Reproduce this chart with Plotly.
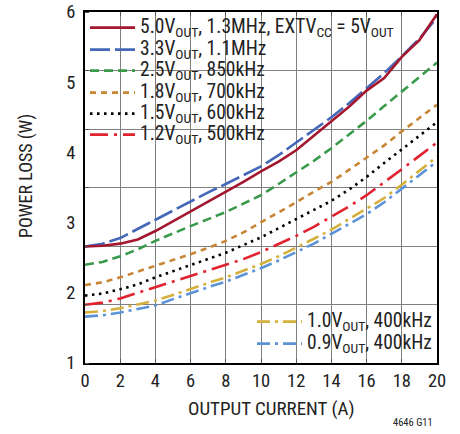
import plotly.graph_objects as go

current = list(range(0, 21))

v50 = [2.66, 2.67, 2.70, 2.76, 2.88, 3.02, 3.16, 3.29, 3.44, 3.58, 3.73, 3.87, 4.03, 4.24, 4.44, 4.65, 4.88, 5.06, 5.36, 5.60, 5.97]
v33 = [2.66, 2.70, 2.78, 2.91, 3.05, 3.18, 3.31, 3.43, 3.55, 3.67, 3.80, 3.96, 4.14, 4.31, 4.50, 4.70, 4.91, 5.13, 5.37, 5.62, 5.92]
v25 = [2.40, 2.44, 2.52, 2.62, 2.74, 2.85, 2.95, 3.05, 3.15, 3.27, 3.39, 3.55, 3.71, 3.88, 4.06, 4.25, 4.45, 4.66, 4.87, 5.08, 5.28]
v18 = [2.11, 2.15, 2.22, 2.30, 2.38, 2.47, 2.55, 2.64, 2.74, 2.86, 3.00, 3.14, 3.29, 3.44, 3.58, 3.75, 3.92, 4.10, 4.30, 4.49, 4.68]
v15 = [1.96, 1.99, 2.05, 2.12, 2.22, 2.31, 2.39, 2.48, 2.57, 2.68, 2.79, 2.92, 3.05, 3.18, 3.31, 3.47, 3.65, 3.85, 4.04, 4.23, 4.43]
v12 = [1.83, 1.86, 1.92, 2.00, 2.08, 2.16, 2.24, 2.32, 2.40, 2.48, 2.58, 2.69, 2.81, 2.94, 3.08, 3.23, 3.39, 3.57, 3.76, 3.95, 4.14]
v10 = [1.72, 1.74, 1.78, 1.83, 1.89, 1.97, 2.06, 2.14, 2.22, 2.31, 2.41, 2.52, 2.64, 2.77, 2.90, 3.05, 3.19, 3.35, 3.54, 3.74, 3.94]
v09 = [1.66, 1.68, 1.72, 1.77, 1.82, 1.91, 2.00, 2.08, 2.16, 2.25, 2.35, 2.46, 2.58, 2.70, 2.84, 2.98, 3.12, 3.29, 3.48, 3.67, 3.87]

names = [
    "5.0V<sub>OUT</sub>, 1.3MHz, EXTV<sub>CC</sub> = 5V<sub>OUT</sub>",
    "3.3V<sub>OUT</sub>, 1.1MHz",
    "2.5V<sub>OUT</sub>, 850kHz",
    "1.8V<sub>OUT</sub>, 700kHz",
    "1.5V<sub>OUT</sub>, 600kHz",
    "1.2V<sub>OUT</sub>, 500kHz",
    "1.0V<sub>OUT</sub>, 400kHz",
    "0.9V<sub>OUT</sub>, 400kHz",
]
series = [v50, v33, v25, v18, v15, v12, v10, v09]
colors = ["#a3172f", "#4467b8", "#3a9a4c", "#c78535", "#000000", "#e2232f", "#d4b03c", "#5b93d6"]
dashes = ["solid", "20px,5px", "9px,5px", "6px,5px", "2.5px,4.5px",
          "18px,6px,3px,6px", "13px,5px,3px,5px", "13px,5px,3px,5px"]

# legend row centres (px from top of figure) and side
row_px = [28, 50, 71, 93, 114, 135, 322, 344]
row_side = ["left"] * 6 + ["right"] * 2

FONT = "Roboto Condensed, Liberation Sans Narrow, Arial Narrow, Liberation Sans, sans-serif"
TXT = 19.5
W, H = 460, 434
PLOT_TOP, PLOT_BOT, PLOT_L, PLOT_R = 12, 363, 85, 437
PH = PLOT_BOT - PLOT_TOP
PW = PLOT_R - PLOT_L


def px_x(p):
    return (p - PLOT_L) / PW


def px_y(p):
    return (PLOT_BOT - p) / PH


fig = go.Figure()
for i in reversed(range(len(series))):
    lg = "legend" if i == 0 else f"legend{i + 1}"
    fig.add_trace(go.Scatter(
        x=current, y=series[i], mode="lines",
        name=f'<span style="font-size:{TXT}px">{names[i]}</span>',
        line=dict(color=colors[i], width=2.6, dash=dashes[i]),
        legend=lg,
    ))

layout_legends = {}
for i in range(len(series)):
    key = "legend" if i == 0 else f"legend{i + 1}"
    left = row_side[i] == "left"
    layout_legends[key] = dict(
        x=0 if left else 1, xanchor="left" if left else "right",
        y=px_y(row_px[i]), yanchor="middle",
        bgcolor="rgba(0,0,0,0)", borderwidth=0, font=dict(size=14),
        itemwidth=45, tracegroupgap=0,
    )

# white backing areas behind the legend text (cover gridlines only)
backs = [(85, 12, 410, 41), (85, 41, 282, 150), (238, 305, 437, 363)]
shapes = [dict(type="rect", xref="paper", yref="paper",
               x0=px_x(a), x1=px_x(c), y0=px_y(d), y1=px_y(b),
               fillcolor="white", line=dict(width=0), layer="between")
          for a, b, c, d in backs]

fig.update_layout(
    width=W, height=H,
    margin=dict(l=PLOT_L, r=W - PLOT_R, t=PLOT_TOP, b=H - PLOT_BOT, autoexpand=False),
    paper_bgcolor="white", plot_bgcolor="white",
    font=dict(family=FONT, size=18, color="#222222"),
    showlegend=True,
    shapes=shapes,
    **layout_legends,
)

fig.update_xaxes(
    range=[0, 20], dtick=2, tick0=0,
    showgrid=True, gridcolor="#808080", gridwidth=1.3,
    showline=True, linecolor="black", linewidth=1.8, mirror="ticks",
    ticks="inside", ticklen=4, tickcolor="#555",
    zeroline=False, tickfont=dict(size=18.5), automargin=False,
)
fig.update_yaxes(
    range=[1, 6], tickvals=[1, 2, 3, 4, 5, 6], ticks="",
    showgrid=False,
    minor=dict(tick0=1, dtick=5 / 6, showgrid=True, gridcolor="#808080",
               gridwidth=1.3, ticks="inside", ticklen=4, tickcolor="#555"),
    showline=True, linecolor="black", linewidth=1.8, mirror=True,
    zeroline=False, tickfont=dict(size=18.5), ticklabelstandoff=4, automargin=False,
)

fig.add_annotation(text="OUTPUT CURRENT (A)", xref="paper", yref="paper",
                   x=px_x(271), y=px_y(408), showarrow=False,
                   xanchor="center", yanchor="middle", font=dict(size=19))
fig.add_annotation(text="POWER LOSS (W)", xref="paper", yref="paper",
                   x=px_x(26), y=px_y(176), showarrow=False,
                   textangle=-90, xanchor="center", yanchor="middle",
                   font=dict(size=18))
fig.add_annotation(text="4646 G11", xref="paper", yref="paper",
                   x=px_x(435), y=px_y(431), showarrow=False,
                   xanchor="right", yanchor="bottom", font=dict(size=10.5))

fig.write_html("out.html",
               config={"displayModeBar": False},
               post_script="document.body.style.margin='0';"
                           "document.body.style.padding='0';")
